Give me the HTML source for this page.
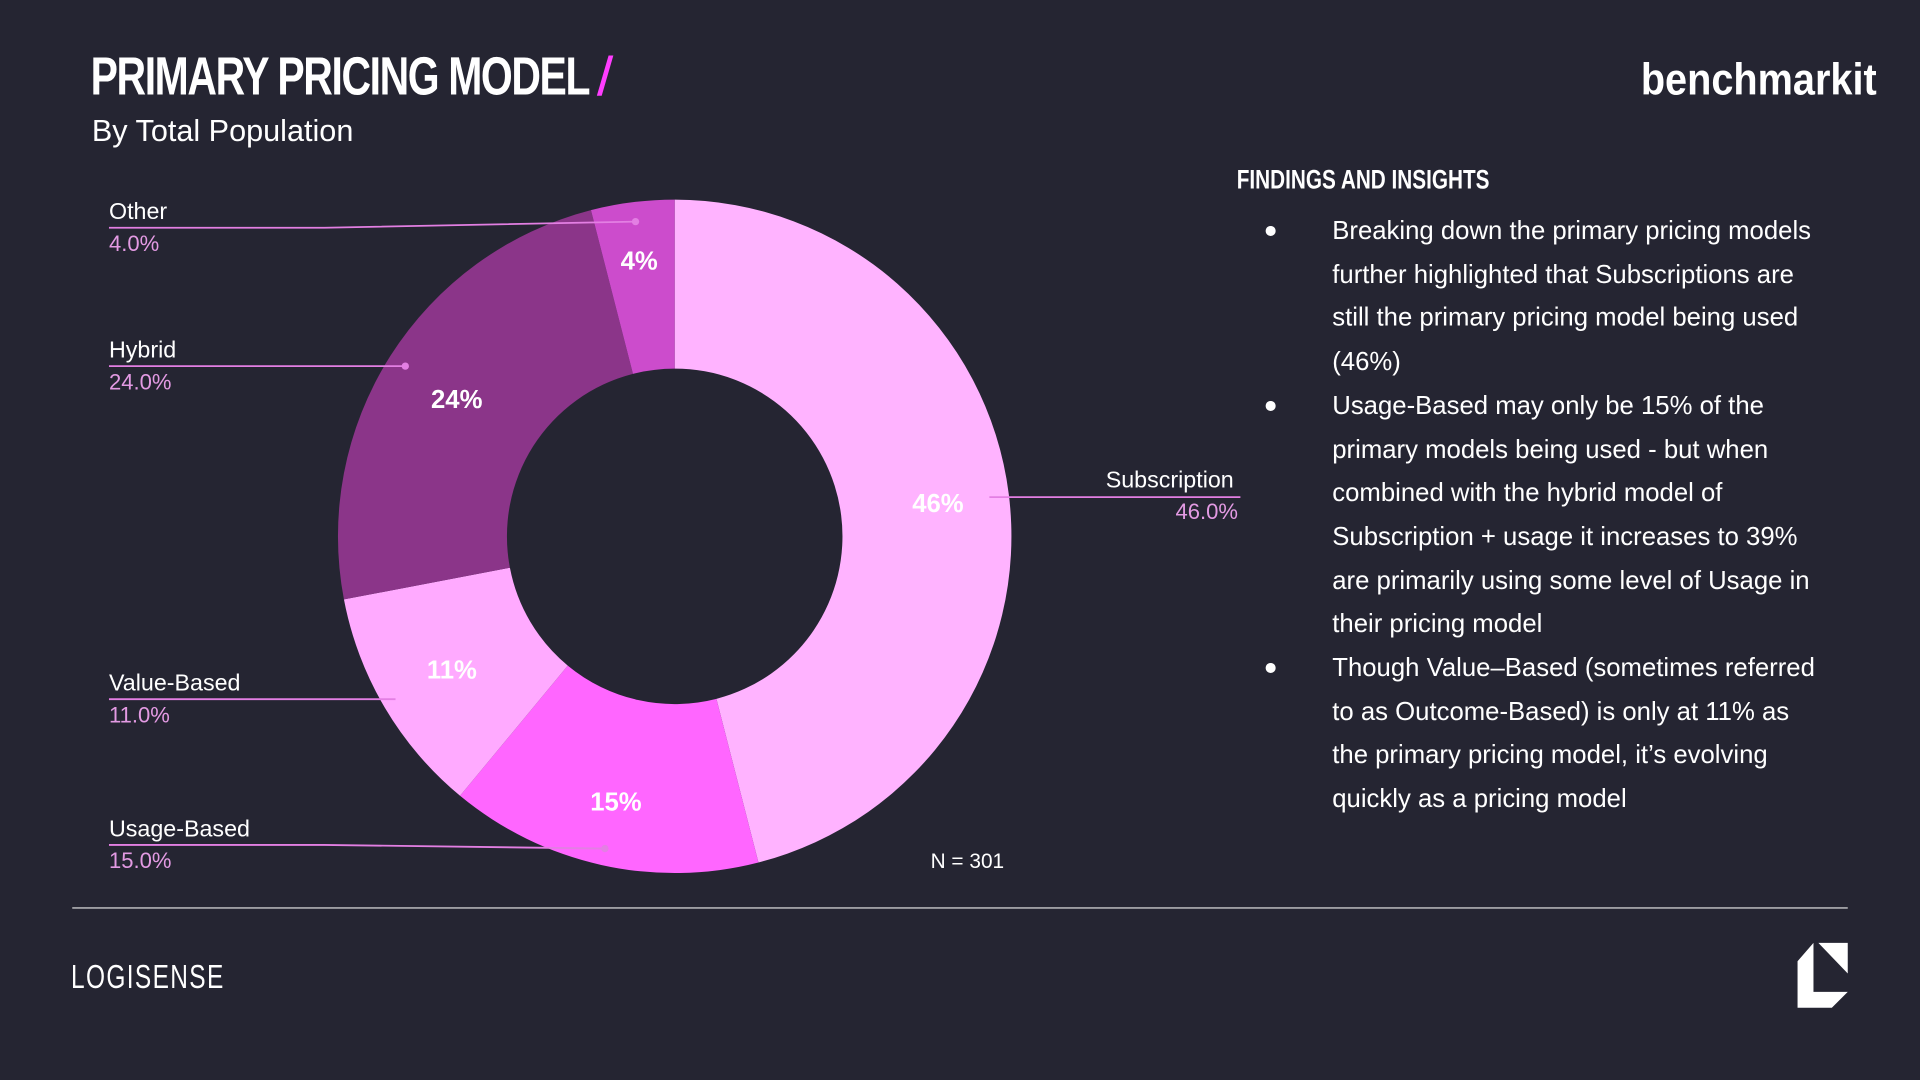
<!DOCTYPE html>
<html><head><meta charset="utf-8"><style>
html,body{margin:0;padding:0;background:#252532;overflow:hidden}
#w{position:absolute;left:0;top:0;width:1568px;height:882px;transform:scale(1.22449);transform-origin:0 0;font-family:"Liberation Sans",sans-serif;color:#fff}
.a{position:absolute;white-space:nowrap}
.lab{font-size:19px;color:#fff}
.pct{font-size:18px;color:#e39ae3}
</style></head><body><div id="w">
<div class="a" style="left:74px;top:38px;font-size:44px;font-weight:bold;letter-spacing:-1.5px;transform:scaleX(0.76);transform-origin:0 0">PRIMARY PRICING MODEL <span style="color:#ff3dff;font-style:italic">/</span></div>
<div class="a" style="left:75px;top:93px;font-size:25px">By Total Population</div>
<div class="a" style="left:1340px;top:44px;font-size:36px;font-weight:bold;transform:scaleX(0.9);transform-origin:0 0">benchmarkit</div>
<div class="a" style="left:1010px;top:134px;font-size:22px;font-weight:bold;transform:scaleX(0.77);transform-origin:0 0">FINDINGS AND INSIGHTS</div>
<div class="a" style="left:1088px;top:171px;width:400px;white-space:normal;font-size:21px;line-height:35.7px">
<div style="position:relative">Breaking down the primary pricing models further highlighted that Subscriptions are still the primary pricing model being used (46%)<span style="position:absolute;left:-56px;top:0;font-size:19px">●</span></div>
<div style="position:relative">Usage-Based may only be 15% of the primary models being used - but when combined with the hybrid model of Subscription + usage it increases to 39% are primarily using some level of Usage in their pricing model<span style="position:absolute;left:-56px;top:0;font-size:19px">●</span></div>
<div style="position:relative">Though Value–Based (sometimes referred to as Outcome-Based) is only at 11% as the primary pricing model, it’s evolving quickly as a pricing model<span style="position:absolute;left:-56px;top:0;font-size:19px">●</span></div>
</div>
<svg class="a" style="left:0;top:0" width="1568" height="882" id="sv"></svg>
<div class="a lab" style="left:89px;top:163px">Other</div><div class="a pct" style="left:89px;top:189px">4.0%</div>
<div class="a lab" style="left:89px;top:276px">Hybrid</div><div class="a pct" style="left:89px;top:302px">24.0%</div>
<div class="a lab" style="left:89px;top:548px">Value-Based</div><div class="a pct" style="left:89px;top:574px">11.0%</div>
<div class="a lab" style="left:89px;top:667px">Usage-Based</div><div class="a pct" style="left:89px;top:693px">15.0%</div>
<div class="a lab" style="left:903px;top:382px">Subscription</div><div class="a pct" style="left:960px;top:408px">46.0%</div>
<div class="a" style="left:760px;top:694px;font-size:17px">N = 301</div>
<div class="a" style="left:59px;top:741px;width:1450px;height:1px;background:#ddd"></div>
<div class="a" style="left:58px;top:783px;font-size:27px;letter-spacing:1.5px;transform:scaleX(0.74);transform-origin:0 0">LOGISENSE</div>
</div>
<script>
var s=document.getElementById('sv'),cx=551,cy=438,R=275,r=137,h='';
var d=[[46,'#ffb3ff'],[15,'#ff66ff'],[11,'#ffaaff'],[24,'#8b3589'],[4,'#cc4ccc']],a=0;
function p(rr,t){return (cx+rr*Math.sin(t)).toFixed(2)+' '+(cy-rr*Math.cos(t)).toFixed(2)}
d.forEach(function(e){var b=a+e[0]*3.6*Math.PI/180,l=(b-a)>Math.PI?1:0;
h+='<path fill="'+e[1]+'" d="M'+p(R,a)+' A'+R+' '+R+' 0 '+l+' 1 '+p(R,b)+' L'+p(r,b)+' A'+r+' '+r+' 0 '+l+' 0 '+p(r,a)+'Z"/>';a=b;});
var L='#e37fe3';
h+='<polyline fill="none" stroke="'+L+'" stroke-width="1.5" points="89,186 265,186 519,181"/><circle cx="519" cy="181" r="3" fill="'+L+'"/>';
h+='<polyline fill="none" stroke="'+L+'" stroke-width="1.5" points="89,299 331,299"/><circle cx="331" cy="299" r="3" fill="'+L+'"/>';
h+='<polyline fill="none" stroke="'+L+'" stroke-width="1.5" points="89,571 323,571"/>';
h+='<polyline fill="none" stroke="'+L+'" stroke-width="1.5" points="89,690 265,690 494,693"/><circle cx="494" cy="693" r="3" fill="'+L+'"/>';
h+='<polyline fill="none" stroke="'+L+'" stroke-width="1.5" points="808,406 1013,406"/>';
var t=[[766,418,'46%'],[503,662,'15%'],[369,554,'11%'],[373,333,'24%'],[522,220,'4%']];
t.forEach(function(q){h+='<text x="'+q[0]+'" y="'+q[1]+'" fill="#fff" font-family="Liberation Sans" font-weight="bold" font-size="21" text-anchor="middle">'+q[2]+'</text>'});
h+='<polygon fill="#fff" points="1468,785 1481,770 1481,810 1509,810 1496,823 1468,823"/><polygon fill="#fff" points="1485,770 1509,770 1509,795"/>';
s.innerHTML=h;
</script>
</body></html>
